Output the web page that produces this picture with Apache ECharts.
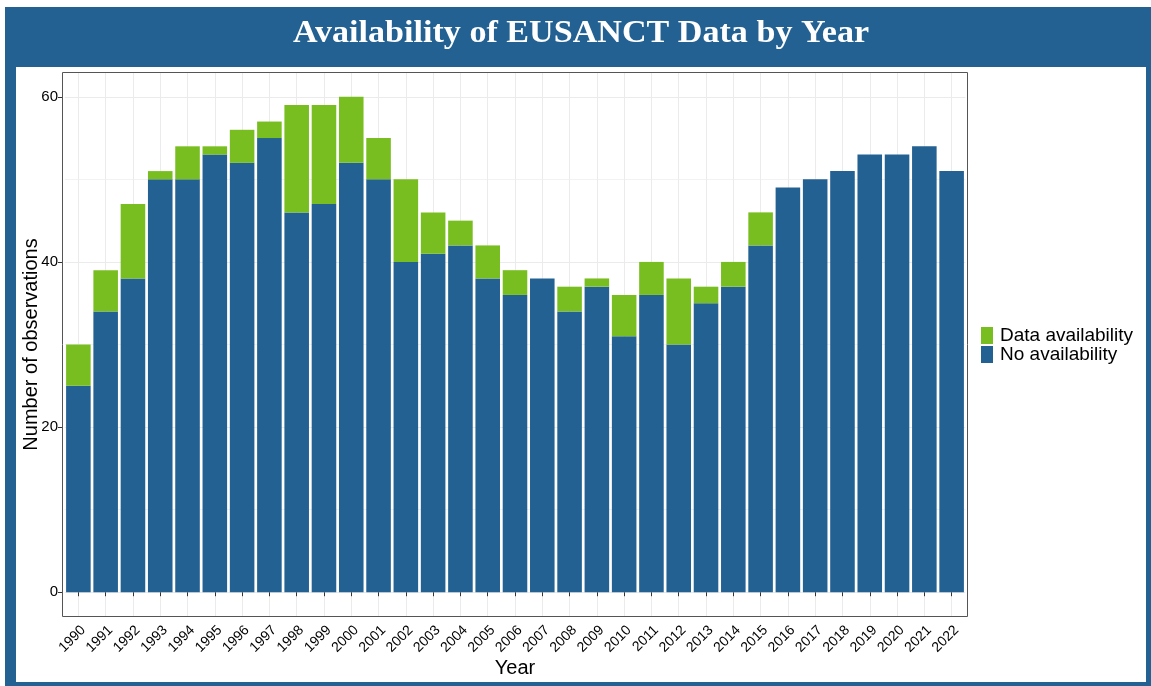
<!DOCTYPE html>
<html>
<head>
<meta charset="utf-8">
<title>Availability of EUSANCT Data by Year</title>
<script src="https://cdn.jsdelivr.net/npm/echarts@6/dist/echarts.min.js"></script>
<style>
  html, body { margin: 0; padding: 0; background: #ffffff; }
  #chart { width: 1151px; height: 686px; }
</style>
</head>
<body>
<div id="chart"></div>
<script>
// Years on the x axis
const years = ['1990','1991','1992','1993','1994','1995','1996','1997','1998','1999',
  '2000','2001','2002','2003','2004','2005','2006','2007','2008','2009','2010','2011',
  '2012','2013','2014','2015','2016','2017','2018','2019','2020','2021','2022'];

// Observations without data (bottom of each stack)
const noAvailability = [25, 34, 38, 50, 50, 53, 52, 55, 46, 47, 52, 50, 40, 41, 42, 38,
  36, 38, 34, 37, 31, 36, 30, 35, 37, 42, 49, 50, 51, 53, 53, 54, 51];

// Observations with data (stacked on top)
const dataAvailability = [5, 5, 9, 1, 4, 1, 4, 2, 13, 12, 8, 5, 10, 5, 3, 4,
  3, 0, 3, 1, 5, 4, 8, 2, 3, 4, 0, 0, 0, 0, 0, 0, 0];

const yTicks = [0, 20, 40, 60];
const yMinorTicks = [10, 30, 50];

const BLUE = '#236192';
const GREEN = '#78be20';
const GRID = '#ebebeb';

// Plot panel box; categories get 0.6 band of padding at each end
const panel = { x: 62, y: 72, w: 906, h: 545 };
const band = panel.w / (years.length - 1 + 1.2);
const inset = band * 0.1;

const chart = echarts.init(document.getElementById('chart'), null, { renderer: 'canvas' });

chart.setOption({
  animation: false,
  backgroundColor: '#ffffff',
  textStyle: { fontFamily: 'Liberation Sans, Arial, sans-serif' },
  graphic: [
    { type: 'rect', z: -20, silent: true,
      shape: { x: 5, y: 7, width: 1146, height: 679 },
      style: { fill: BLUE } },
    { type: 'rect', z: -19, silent: true,
      shape: { x: 16, y: 67, width: 1130, height: 615 },
      style: { fill: '#ffffff' } },
    { type: 'rect', z: 50, silent: true,
      shape: { x: panel.x + 0.5, y: panel.y + 0.5, width: panel.w - 1, height: panel.h - 1 },
      style: { fill: 'none', stroke: '#555555', lineWidth: 1 } },
    // Banner title
    { type: 'text', z: 60, silent: true,
      x: 581, y: 34, scaleX: 1.1,
      style: {
        text: 'Availability of EUSANCT Data by Year',
        fill: '#ffffff',
        font: 'bold 31px "Liberation Serif", serif',
        align: 'center',
        verticalAlign: 'middle'
      } }
  ],
  legend: {
    orient: 'vertical',
    left: 981,
    top: 326,
    padding: 0,
    itemGap: 0,
    itemWidth: 12,
    itemHeight: 17,
    icon: 'rect',
    data: ['Data availability', 'No availability'],
    textStyle: { fontSize: 19, color: '#000000', padding: [0, 0, 0, 2] }
  },
  grid: {
    left: panel.x + inset,
    top: panel.y,
    width: panel.w - 2 * inset,
    height: panel.h,
    containLabel: false
  },
  xAxis: {
    type: 'category',
    data: years,
    boundaryGap: true,
    name: 'Year',
    nameLocation: 'middle',
    nameGap: 41,
    nameMoveOverlap: false,
    nameTextStyle: { fontSize: 20, color: '#000000' },
    axisLine: { show: false },
    axisTick: { show: true, alignWithLabel: true, length: 4, lineStyle: { color: '#333333' } },
    axisLabel: { rotate: 45, fontSize: 14, color: '#000000', margin: 6, interval: 0, verticalAlign: 'top', padding: [0, 0, 0, 0] },
    splitLine: { show: true, alignWithLabel: true, lineStyle: { color: GRID, width: 1 } }
  },
  yAxis: [
    {
      type: 'value',
      min: -3,
      max: 63,
      offset: inset,
      name: 'Number of observations',
      nameLocation: 'middle',
      nameGap: 21,
      nameMoveOverlap: false,
      nameTextStyle: { fontSize: 20, color: '#000000' },
      axisLine: { show: false },
      axisTick: { show: true, length: 4, customValues: yTicks, lineStyle: { color: '#333333' } },
      axisLabel: { fontSize: 15, color: '#000000', margin: 4, customValues: yTicks },
      splitLine: { show: true, lineStyle: { color: GRID, width: 1 } }
    },
    {
      type: 'value',
      min: -3,
      max: 63,
      position: 'right',
      axisLine: { show: false },
      axisTick: { show: false, customValues: yMinorTicks },
      axisLabel: { show: false, customValues: yMinorTicks },
      splitLine: { show: true, lineStyle: { color: '#f2f2f2', width: 1 } }
    }
  ],
  series: [
    {
      name: 'No availability',
      type: 'bar',
      stack: 'obs',
      barCategoryGap: '10%',
      itemStyle: { color: BLUE },
      data: noAvailability
    },
    {
      name: 'Data availability',
      type: 'bar',
      stack: 'obs',
      barCategoryGap: '10%',
      itemStyle: { color: GREEN },
      data: dataAvailability
    }
  ]
});
</script>
</body>
</html>
